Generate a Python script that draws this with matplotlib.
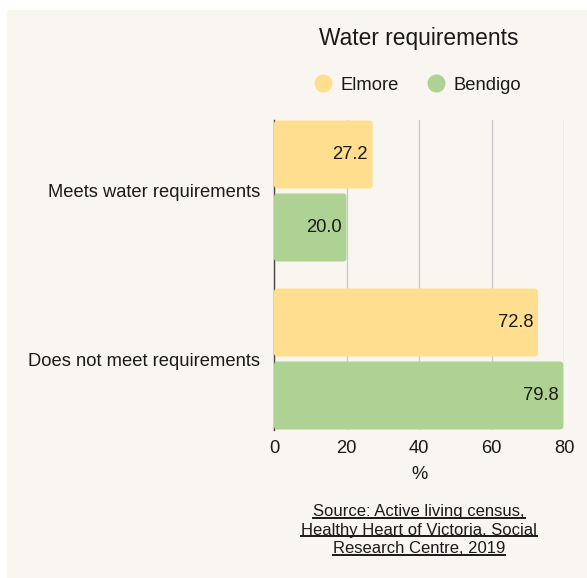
import matplotlib
matplotlib.use("Agg")
import matplotlib.pyplot as plt
from matplotlib.patches import Rectangle, FancyBboxPatch
from matplotlib.lines import Line2D
import numpy as np

plt.rcParams['font.family'] = ['Liberation Sans', 'DejaVu Sans']

categories = ["Meets water requirements", "Does not meet requirements"]
series_names = ["Elmore", "Bendigo"]
elmore = [27.2, 72.8]
bendigo = [20.0, 79.8]
x_ticks = [0, 20, 40, 60, 80]
title = "Water requirements"
xlabel = "%"
source_lines = ["Source: Active living census,",
                "Healthy Heart of Victoria, Social",
                "Research Centre, 2019"]

colors = ["#FFDF8F", "#AED293"]
bg = "#F9F6F1"
txt = "#1a1a1a"
fs = 13.2

W, H = 587, 578
fig = plt.figure(figsize=(W / 100, H / 100), dpi=100)
fig.patch.set_facecolor("white")
fig.add_artist(Rectangle((7 / W, 0), 1 - 7 / W, (H - 10) / H,
                         transform=fig.transFigure, facecolor=bg,
                         edgecolor="none", zorder=-10))

ax_l, ax_r, ax_t, ax_b = 274, 564, 120, 430
ax = fig.add_axes([ax_l / W, 1 - ax_b / H, (ax_r - ax_l) / W, (ax_b - ax_t) / H])
ax.set_facecolor("none")

y = np.arange(len(categories))
bh = 68 / 168
off = 36.5 / 168
xlim = (0, 80)
ax.set_xlim(*xlim)
ax.set_ylim(len(categories) - 1 + 0.4226, -0.4226)

px_per_x = (ax_r - ax_l) / (xlim[1] - xlim[0])
px_per_y = 168.0
rad_px = 3.5
for vals, col, sgn in [(elmore, colors[0], -1), (bendigo, colors[1], 1)]:
    bars = ax.barh(y + sgn * off, vals, height=bh, color=col, alpha=0)
    for b, v in zip(bars, vals):
        x0, y0 = b.get_x(), b.get_y()
        w, h = b.get_width(), b.get_height()
        p = FancyBboxPatch((x0, y0), w, h,
                           boxstyle=f"round,pad=0,rounding_size={rad_px / px_per_x}",
                           mutation_aspect=px_per_x / px_per_y,
                           facecolor=col, edgecolor="none", zorder=3)
        ax.add_patch(p)
        ax.annotate(f"{v:.1f}", xy=(v, y0 + h / 2), xytext=(-3.4, 0),
                    textcoords="offset points", ha="right", va="center",
                    fontsize=fs, color=txt, zorder=4)

ax.set_yticks(y)
ax.set_yticklabels(categories, fontsize=fs, color=txt)
ax.tick_params(axis="y", length=0, pad=10)
ax.set_xticks(x_ticks)
ax.set_xticklabels([str(t) for t in x_ticks], fontsize=fs, color=txt)
ax.tick_params(axis="x", length=0, pad=7)
ax.xaxis.grid(True, color="#CBCBCB", linewidth=1)
ax.set_axisbelow(True)
for s in ["top", "right", "bottom"]:
    ax.spines[s].set_visible(False)
ax.spines["left"].set_color("#444444")
ax.spines["left"].set_linewidth(1)
ax.spines["left"].set_zorder(2)
ax.set_xlabel(xlabel, fontsize=fs, color=txt, labelpad=7)

cx = (ax_l + ax_r) / 2 / W
fig.text(cx, 1 - 38 / H, title, ha="center", va="center", fontsize=16.4, color=txt)

handles = [Line2D([], [], marker="o", linestyle="none", markersize=13,
                  markerfacecolor=c, markeredgecolor="none") for c in colors]
fig.legend(handles, series_names, loc="center", bbox_to_anchor=(cx - 1.5 / W, 1 - 85 / H),
           ncol=2, frameon=False, fontsize=fs, handletextpad=0.45,
           columnspacing=1.55, handlelength=1.0, labelcolor=txt)

src_x = 419 / W
src_base = [516, 534.5, 553]
texts = []
for line, yy in zip(source_lines, src_base):
    texts.append(fig.text(src_x, 1 - yy / H, line, ha="center", va="baseline",
                          fontsize=12, color=txt))

fig.canvas.draw()
r = fig.canvas.get_renderer()
for t, yy in zip(texts, src_base):
    bb = t.get_window_extent(r)
    yl = H - (yy + 1.5)
    fig.add_artist(Line2D([bb.x0 / W, bb.x1 / W], [yl / H, yl / H],
                          transform=fig.transFigure, color=txt, linewidth=1.4))

fig.savefig("out.png", dpi=100, facecolor=fig.get_facecolor())
